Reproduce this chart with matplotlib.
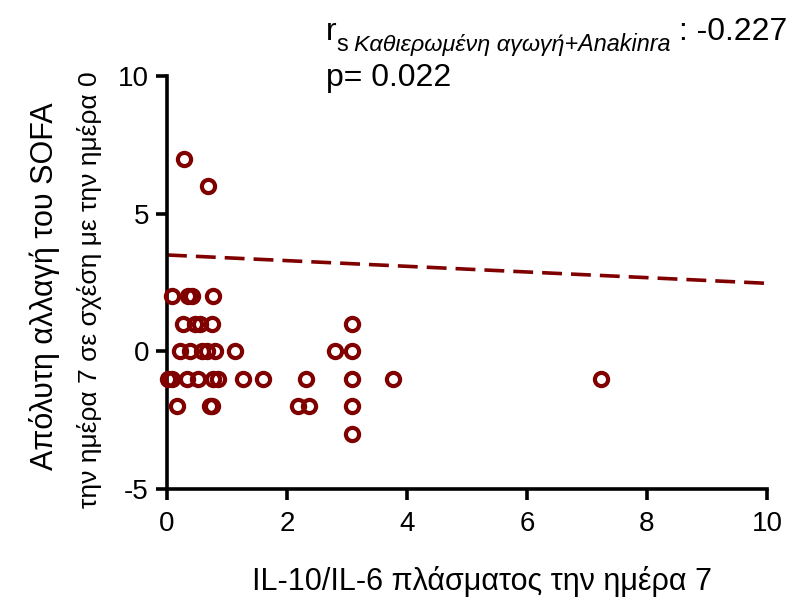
import matplotlib.pyplot as plt
import numpy as np

plt.rcParams["font.family"] = ["Liberation Sans", "DejaVu Sans"]
plt.rcParams["axes.unicode_minus"] = False

# IL-10/IL-6 ratio on day 7 vs absolute SOFA change (day 7 - day 0)
il_ratio = [0.28, 0.68,
            0.08, 0.35, 0.42, 0.77,
            0.27, 0.47, 0.55, 0.75, 3.08,
            0.22, 0.38, 0.58, 0.67, 0.80, 1.13, 2.80, 3.08,
            0.02, 0.08, 0.33, 0.52, 0.77, 0.85, 1.27, 1.60, 2.32, 3.08, 3.77, 7.23,
            0.17, 0.72, 0.75, 2.18, 2.37, 3.08,
            3.08]
sofa_change = [7, 6,
               2, 2, 2, 2,
               1, 1, 1, 1, 1,
               0, 0, 0, 0, 0, 0, 0, 0,
               -1, -1, -1, -1, -1, -1, -1, -1, -1, -1, -1, -1,
               -2, -2, -2, -2, -2, -2,
               -3]

# regression line
fit_x = [0, 10]
fit_y = [3.5, 2.47]

red = "#800000"

fig = plt.figure(figsize=(7.96, 6.0), dpi=100)
ax = fig.add_axes([167 / 796, 1 - 489 / 600, 600 / 796, 413 / 600])

ax.plot(il_ratio, sofa_change, "o", mfc="none", mec=red, mew=3, ms=9.5,
        clip_on=False, zorder=3)
ax.plot(fit_x, fit_y, "--", color=red, lw=2.6, dashes=(5.5, 2.5))

ax.set_xlim(0, 10)
ax.set_ylim(-5, 10)
ax.set_xticks([0, 2, 4, 6, 8, 10])
ax.set_yticks([-5, 0, 5, 10])
for s in ["top", "right"]:
    ax.spines[s].set_visible(False)
for s in ["left", "bottom"]:
    ax.spines[s].set_linewidth(2.6)
ax.tick_params(width=2.6, length=8, labelsize=20, pad=5)
ax.tick_params(axis="x", pad=8)


def px(x, y):
    return x / 796, 1 - y / 600


# axis titles
fig.text(*px(482, 590), "IL-10/IL-6 πλάσματος την ημέρα 7", fontsize=22,
         ha="center", va="baseline")
fig.text(*px(45, 286), "Απόλυτη αλλαγή του SOFA", fontsize=22,
         rotation=90, ha="center", va="center")
fig.text(*px(90, 290), "την ημέρα 7 σε σχέση με την ημέρα 0", fontsize=19,
         rotation=90, ha="center", va="center")

# Spearman annotation
fig.text(*px(326, 40), "r", fontsize=23, va="baseline")
fig.text(*px(336, 51), "s", fontsize=17, va="baseline")
fig.text(*px(354, 51), "Καθιερωμένη αγωγή+Anakinra", fontsize=16.8,
         style="italic", va="baseline")
fig.text(*px(679, 40), ": -0.227", fontsize=23, va="baseline")
fig.text(*px(326, 86), "p= 0.022", fontsize=23, va="baseline")

fig.savefig("out.png", dpi=100)
